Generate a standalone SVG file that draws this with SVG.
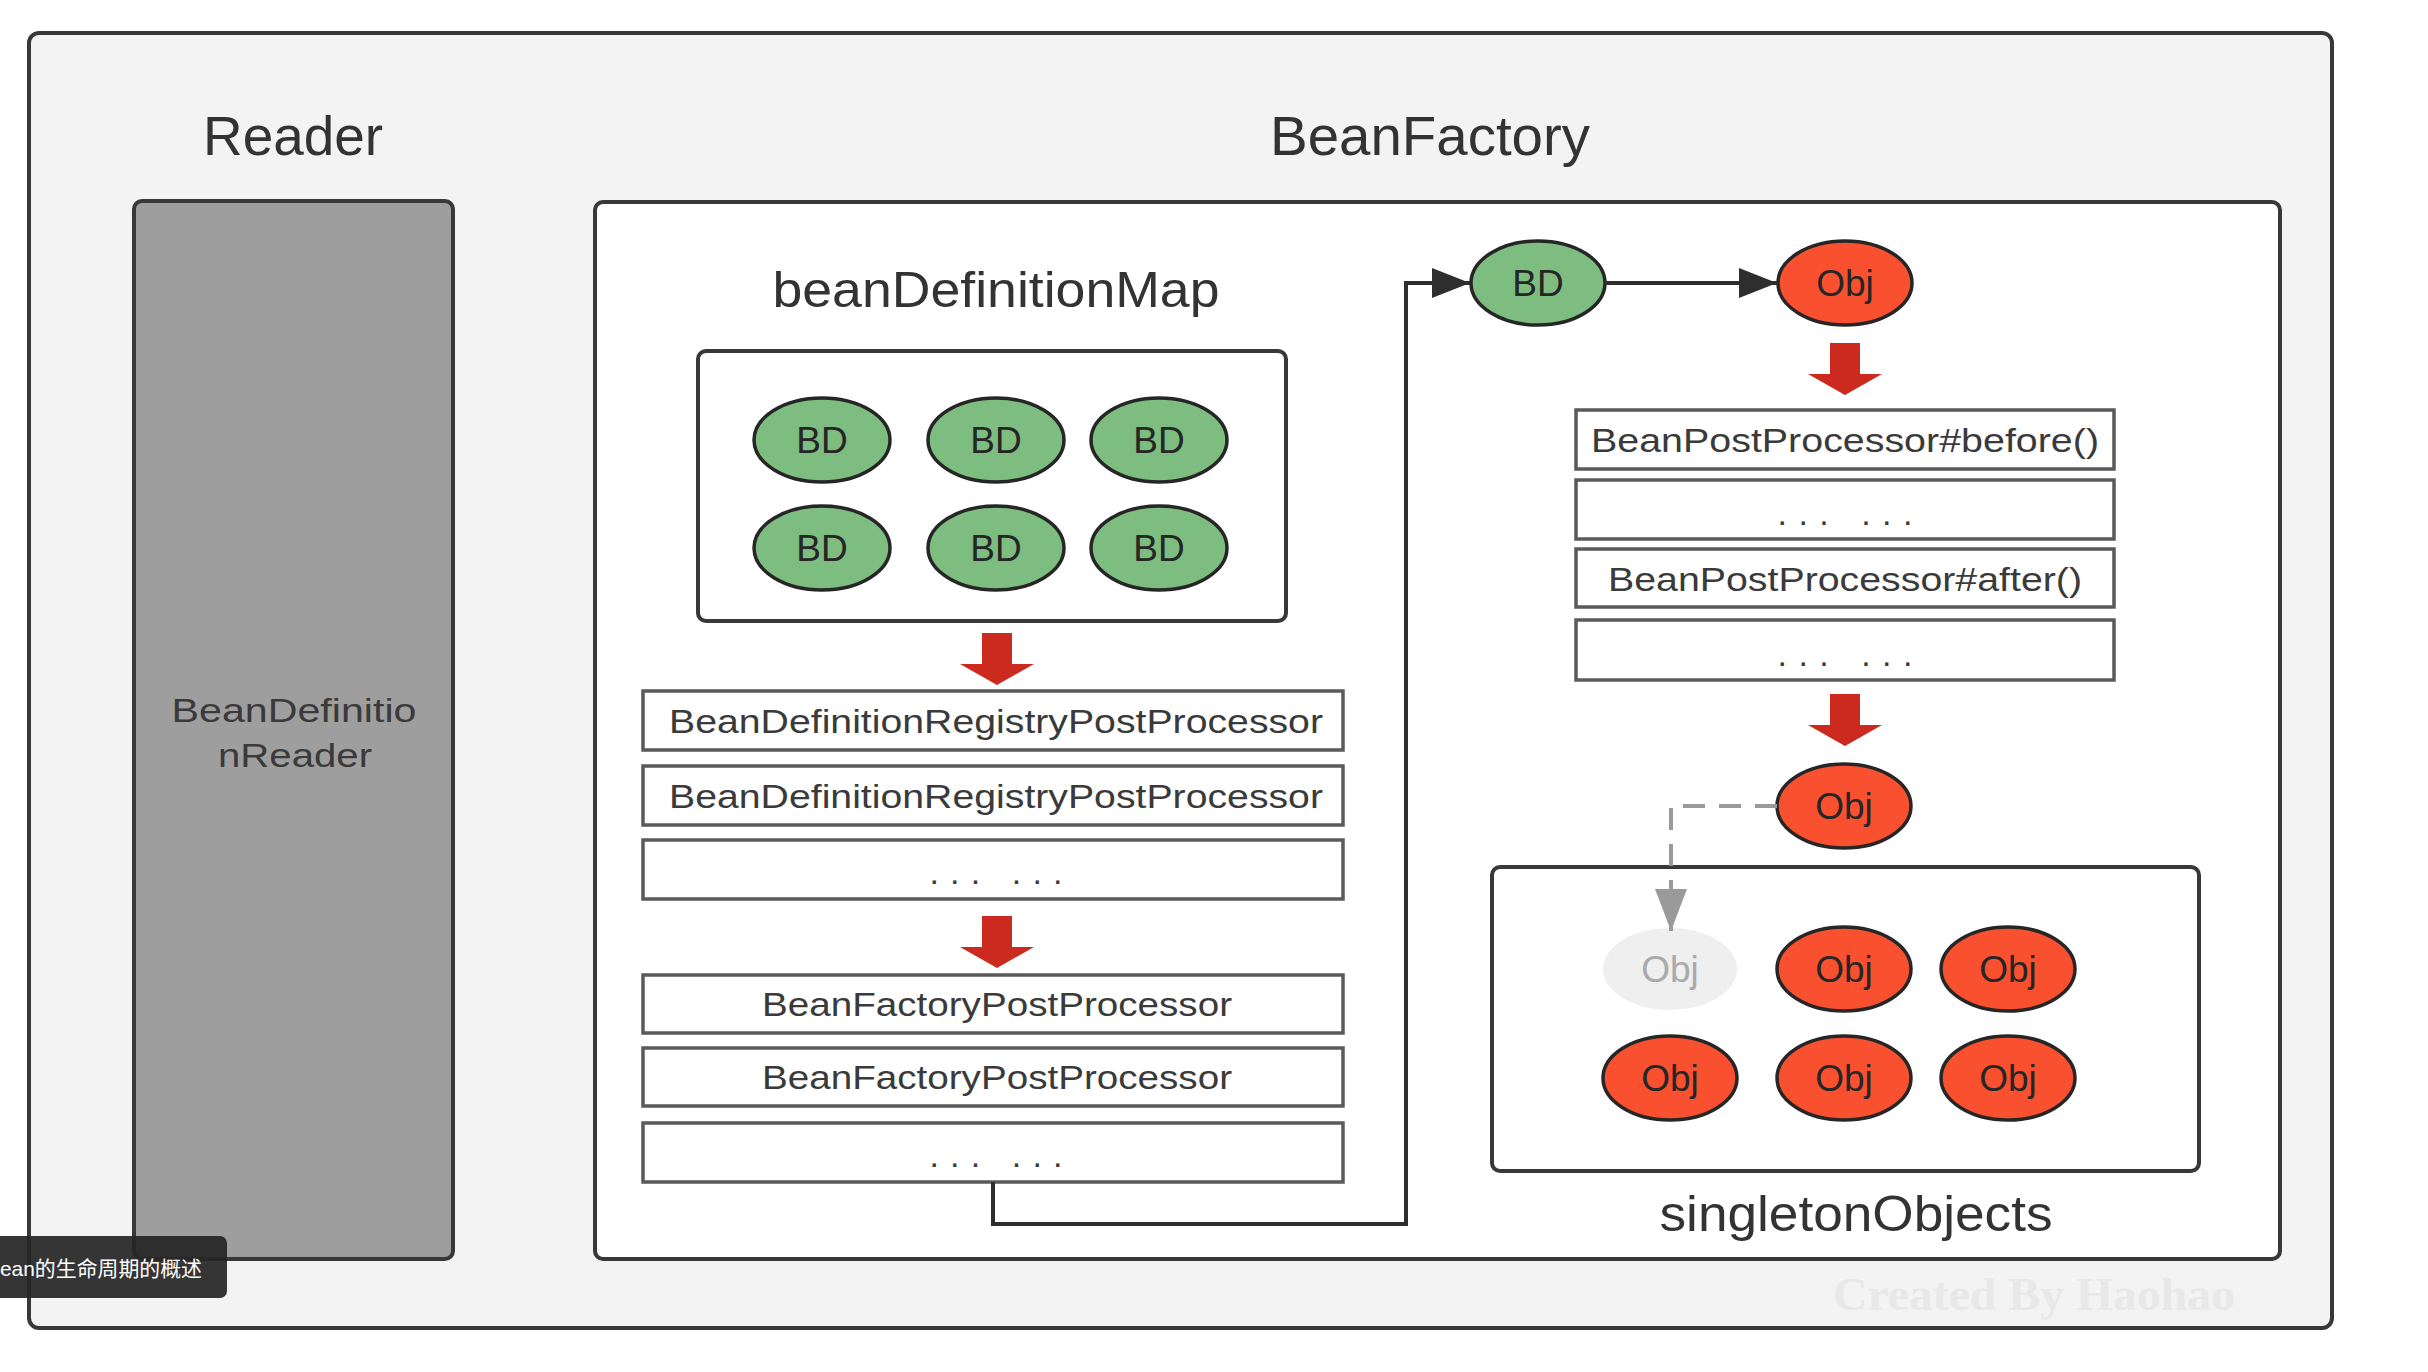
<svg xmlns="http://www.w3.org/2000/svg" xmlns:xlink="http://www.w3.org/1999/xlink" width="2428" height="1372" viewBox="0 0 2428 1372">
<style>
  .frame { fill: #f3f3f3; stroke: #383838; stroke-width: 4; }
  .panel { fill: #ffffff; stroke: #383838; stroke-width: 4; }
  .reader { fill: #9e9e9e; stroke: #383838; stroke-width: 4; }
  .proc { fill: #ffffff; stroke: #5a5a5a; stroke-width: 3.5; }
  .bd { fill: #7dbd7f; stroke: #262626; stroke-width: 3.5; }
  .obj { fill: #f9512f; stroke: #262626; stroke-width: 3.5; }
  .ghost { fill: #efefef; stroke: none; }
  .title { font-family: "Liberation Sans", Arial, sans-serif; font-size: 56px; fill: #333333; text-anchor: middle; }
  .sub { font-family: "Liberation Sans", Arial, sans-serif; font-size: 50px; fill: #333333; text-anchor: middle; }
  .lbl { font-family: "Liberation Sans", Arial, sans-serif; font-size: 34px; fill: #3a3a3a; text-anchor: middle; }
  .node { font-family: "Liberation Sans", Arial, sans-serif; font-size: 37px; fill: #262626; text-anchor: middle; }
  .nodeg { font-family: "Liberation Sans", Arial, sans-serif; font-size: 37px; fill: #aaaaaa; text-anchor: middle; }
  .dots { font-family: "Liberation Sans", Arial, sans-serif; font-size: 34px; fill: #3a3a3a; text-anchor: middle; }
  .conn { fill: none; stroke: #2e2e2e; stroke-width: 4; }
  .dash { fill: none; stroke: #9a9a9a; stroke-width: 4; stroke-dasharray: 22 14; }
  .red { fill: #cc2a1f; }
</style>
<defs>
  <marker id="arrowDark" markerUnits="userSpaceOnUse" markerWidth="40" markerHeight="32" refX="38" refY="15" orient="auto">
    <path d="M0 0 L38 15 L0 30 Z" fill="#2e2e2e"/>
  </marker>
  <marker id="arrowGray" markerUnits="userSpaceOnUse" markerWidth="44" markerHeight="34" refX="42" refY="16" orient="auto">
    <path d="M0 0 L42 16 L0 32 Z" fill="#9a9a9a"/>
  </marker>
  <path id="redArrow" class="red" d="M-15 0 H15 V31 H37 L0 52 L-37 31 H-15 Z"/>
</defs>

<g id="outer-frame">
  <rect class="frame" x="29" y="33" width="2303" height="1295" rx="10"/>
  <text class="title" x="293" y="155" textLength="180" lengthAdjust="spacingAndGlyphs">Reader</text>
  <text class="title" x="1430" y="155" textLength="320" lengthAdjust="spacingAndGlyphs">BeanFactory</text>
  <text x="2034" y="1310" font-family="Liberation Serif, serif" font-weight="bold" font-size="46" fill="#e8e8e8" text-anchor="middle" textLength="402" lengthAdjust="spacingAndGlyphs">Created By Haohao</text>
</g>

<g id="reader">
  <rect class="reader" x="134" y="201" width="319" height="1058" rx="8"/>
  <text class="lbl" x="294" y="722" font-size="40" fill="#333" textLength="245" lengthAdjust="spacingAndGlyphs">BeanDefinitio</text>
  <text class="lbl" x="295" y="767" font-size="40" fill="#333" textLength="154" lengthAdjust="spacingAndGlyphs">nReader</text>
</g>

<g id="beanfactory">
  <rect class="panel" x="595" y="202" width="1685" height="1057" rx="8"/>
</g>

<g id="beanDefinitionMap">
  <text class="sub" x="996" y="307" textLength="447" lengthAdjust="spacingAndGlyphs">beanDefinitionMap</text>
  <rect class="panel" x="698" y="351" width="588" height="270" rx="8"/>
  <g id="bd1"><ellipse class="bd" cx="822" cy="440" rx="68" ry="42"/><text class="node" x="822" y="453">BD</text></g>
  <g id="bd2"><ellipse class="bd" cx="996" cy="440" rx="68" ry="42"/><text class="node" x="996" y="453">BD</text></g>
  <g id="bd3"><ellipse class="bd" cx="1159" cy="440" rx="68" ry="42"/><text class="node" x="1159" y="453">BD</text></g>
  <g id="bd4"><ellipse class="bd" cx="822" cy="548" rx="68" ry="42"/><text class="node" x="822" y="561">BD</text></g>
  <g id="bd5"><ellipse class="bd" cx="996" cy="548" rx="68" ry="42"/><text class="node" x="996" y="561">BD</text></g>
  <g id="bd6"><ellipse class="bd" cx="1159" cy="548" rx="68" ry="42"/><text class="node" x="1159" y="561">BD</text></g>
</g>

<g id="registry-processors">
  <rect class="proc" x="643" y="691" width="700" height="59"/>
  <text class="lbl" x="996" y="733" textLength="654" lengthAdjust="spacingAndGlyphs">BeanDefinitionRegistryPostProcessor</text>
  <rect class="proc" x="643" y="766" width="700" height="59"/>
  <text class="lbl" x="996" y="808" textLength="654" lengthAdjust="spacingAndGlyphs">BeanDefinitionRegistryPostProcessor</text>
  <rect class="proc" x="643" y="840" width="700" height="59"/>
  <text class="dots" x="996" y="884" textLength="133" lengthAdjust="spacing">... ...</text>
</g>

<g id="factory-processors">
  <rect class="proc" x="643" y="975" width="700" height="58"/>
  <text class="lbl" x="997" y="1016" textLength="470" lengthAdjust="spacingAndGlyphs">BeanFactoryPostProcessor</text>
  <rect class="proc" x="643" y="1048" width="700" height="58"/>
  <text class="lbl" x="997" y="1089" textLength="470" lengthAdjust="spacingAndGlyphs">BeanFactoryPostProcessor</text>
  <rect class="proc" x="643" y="1123" width="700" height="59"/>
  <text class="dots" x="996" y="1167" textLength="133" lengthAdjust="spacing">... ...</text>
</g>

<g id="bd-single"><ellipse class="bd" cx="1538" cy="283" rx="67" ry="42"/><text class="node" x="1538" y="296">BD</text></g>
<g id="obj-created"><ellipse class="obj" cx="1845" cy="283" rx="67" ry="42"/><text class="node" x="1845" y="296">Obj</text></g>

<g id="bean-post-processors">
  <rect class="proc" x="1576" y="410" width="538" height="59"/>
  <text class="lbl" x="1845" y="452" textLength="508" lengthAdjust="spacingAndGlyphs">BeanPostProcessor#before()</text>
  <rect class="proc" x="1576" y="480" width="538" height="59"/>
  <text class="dots" x="1845" y="525" textLength="135" lengthAdjust="spacing">... ...</text>
  <rect class="proc" x="1576" y="549" width="538" height="58"/>
  <text class="lbl" x="1845" y="591" textLength="474" lengthAdjust="spacingAndGlyphs">BeanPostProcessor#after()</text>
  <rect class="proc" x="1576" y="620" width="538" height="60"/>
  <text class="dots" x="1845" y="666" textLength="135" lengthAdjust="spacing">... ...</text>
</g>

<g id="obj-final"><ellipse class="obj" cx="1844" cy="806" rx="67" ry="42"/><text class="node" x="1844" y="819">Obj</text></g>

<g id="singletonObjects">
  <rect class="panel" x="1492" y="867" width="707" height="304" rx="8"/>
  <text class="sub" x="1856" y="1231" textLength="393" lengthAdjust="spacingAndGlyphs">singletonObjects</text>
  <g id="obj-ghost"><ellipse class="ghost" cx="1670" cy="969" rx="67" ry="41"/><text class="nodeg" x="1670" y="982">Obj</text></g>
  <g id="obj2"><ellipse class="obj" cx="1844" cy="969" rx="67" ry="42"/><text class="node" x="1844" y="982">Obj</text></g>
  <g id="obj3"><ellipse class="obj" cx="2008" cy="969" rx="67" ry="42"/><text class="node" x="2008" y="982">Obj</text></g>
  <g id="obj4"><ellipse class="obj" cx="1670" cy="1078" rx="67" ry="42"/><text class="node" x="1670" y="1091">Obj</text></g>
  <g id="obj5"><ellipse class="obj" cx="1844" cy="1078" rx="67" ry="42"/><text class="node" x="1844" y="1091">Obj</text></g>
  <g id="obj6"><ellipse class="obj" cx="2008" cy="1078" rx="67" ry="42"/><text class="node" x="2008" y="1091">Obj</text></g>
</g>

<g id="connectors">
  <path class="conn" d="M993 1182 V1224 H1406 V283 H1470" marker-end="url(#arrowDark)"/>
  <path class="conn" d="M1605 283 H1777" marker-end="url(#arrowDark)"/>
  <path class="dash" d="M1777 806 H1671 V931" marker-end="url(#arrowGray)"/>
  <use xlink:href="#redArrow" x="997" y="633"/>
  <use xlink:href="#redArrow" x="997" y="916"/>
  <use xlink:href="#redArrow" x="1845" y="343"/>
  <use xlink:href="#redArrow" x="1845" y="694"/>
</g>

<g id="caption">
  <rect x="-10" y="1236" width="237" height="62" rx="7" fill="#262626" opacity="0.93"/>
  <text x="0" y="1276" font-family="Liberation Sans, 'Noto Sans CJK SC', sans-serif" font-size="21" fill="#ffffff" textLength="202" lengthAdjust="spacingAndGlyphs">ean的生命周期的概述</text>
</g>
</svg>
